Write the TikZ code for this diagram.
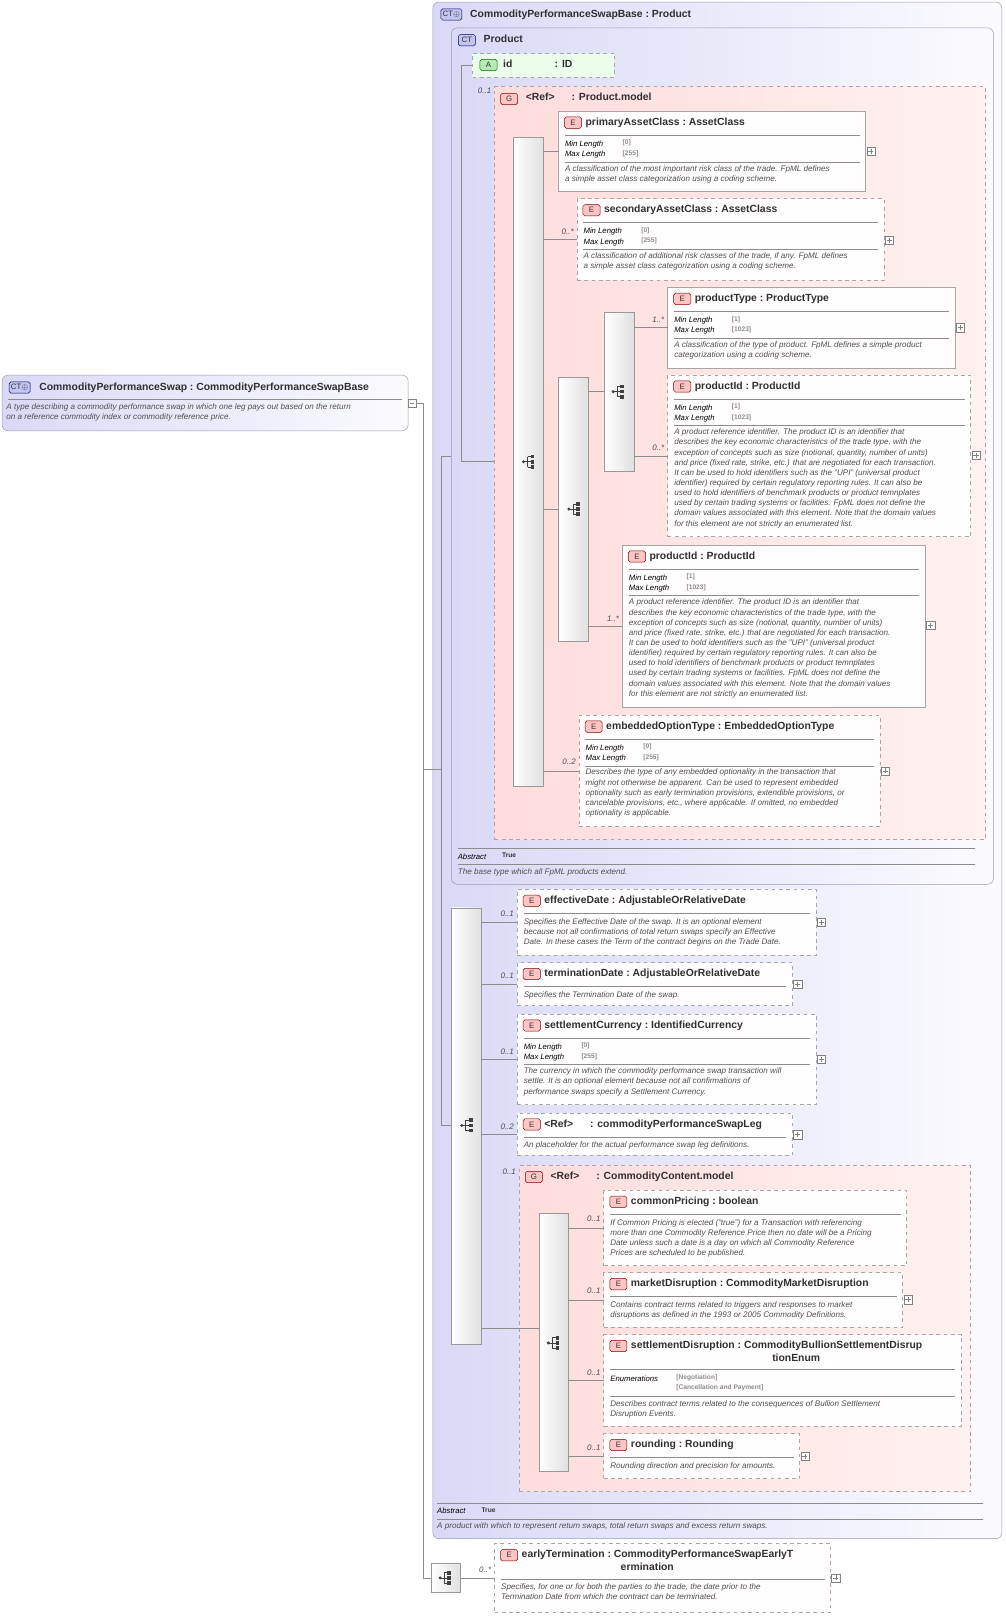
\documentclass[tikz,border=0pt]{standalone}
\usepackage{fontspec}
\setmainfont{Liberation Sans}
\usetikzlibrary{shapes}

\definecolor{ctline}{HTML}{9A9AB8}
\definecolor{ctfill}{HTML}{D9D9F7}
\definecolor{grpline}{HTML}{B8A0A0}
\definecolor{grpfill}{HTML}{FFDCDC}
\definecolor{ebadge}{HTML}{FFC4C4}
\definecolor{ctbadge}{HTML}{C4C4F0}
\definecolor{abadge}{HTML}{B4ECB4}
\definecolor{txt}{HTML}{303030}
\definecolor{dtxt}{HTML}{505050}

\newcommand\bx[6]{\node[#6, anchor=north west, minimum width={(#4-#2)*0.03cm}, minimum height={(#5-#3)*0.03cm}] (#1) at (#2,#3) {};}
\newcommand\elem[7]{%
  \bx{#1}{#2}{#3}{#4}{#5}{#6}
  \node[badge, fill=ebadge, draw=red!50!black] at (#2+14,#3+11) {E};
  \node[ttl] at (#2+26,#3+6) {#7};}
\newcommand\sepl[3]{\draw[sepline] (#1,#3) -- (#2,#3);}
\newcommand\props[5]{%
  \node[prp] at (#1+6,#2+32) {Min Length}; \node[val] at (#1+62,#2+31) {[#4]};
  \node[prp] at (#1+6,#2+42) {Max Length}; \node[val] at (#1+62,#2+41) {[#5]};
  \sepl{#1+6}{#3-6}{#2+49}}
\newcommand\dsc[3]{\node[dsc] at (#1+6,#2) {#3};}
\newcommand\plusbox[2]{\draw[gray, fill=white] (#1-4,#2-4) rectangle (#1+4,#2+4);
  \draw[gray] (#1-2.5,#2) -- (#1+2.5,#2) (#1,#2-2.5) -- (#1,#2+2.5);}
\newcommand\seqicon[2]{%
  \fill[black!75] (#1-5,#2) circle (1.6);
  \draw[black!75, line width=0.6pt] (#1-5,#2) -- (#1-1,#2) (#1-1,#2-5) -- (#1-1,#2+5)
    (#1-1,#2-5) -- (#1+2,#2-5) (#1-1,#2) -- (#1+2,#2) (#1-1,#2+5) -- (#1+2,#2+5);
  \foreach \dy in {-5,0,5} \fill[black!75] (#1+2,#2+\dy-1.8) rectangle (#1+5.6,#2+\dy+1.8);}

\tikzset{
  ctbox/.style={draw=ctline, rounded corners=5pt, left color=ctfill, right color=white!90!ctfill, inner sep=0, outer sep=0},
  grpbox/.style={draw=grpline, dashed, line width=0.8pt, left color=grpfill, right color=grpfill!40, inner sep=0, outer sep=0},
  ebox/.style={draw=black!35, line width=0.6pt, fill=white!93!grpfill, inner sep=0, outer sep=0},
  eopt/.style={ebox, dashed, line width=0.8pt},
  seqbar/.style={draw=black!40, left color=white, right color=black!12, inner sep=0, outer sep=0},
  badge/.style={rounded corners=1.5pt, font=\fontsize{6.5}{7}\selectfont, text=black!80, inner sep=1.5pt, minimum width=0.5cm, minimum height=0.33cm},
  ttl/.style={anchor=north west, align=left, font=\fontsize{8.6}{10.5}\selectfont\bfseries, text=txt, inner sep=0},
  prp/.style={anchor=west, font=\fontsize{6.4}{7}\selectfont\itshape, text=black, inner sep=0},
  val/.style={anchor=west, font=\fontsize{5.5}{6}\selectfont\bfseries, text=black!45, inner sep=0},
  dsc/.style={anchor=north west, align=left, font=\fontsize{6.7}{8.4}\selectfont\itshape, text=dtxt, inner sep=0},
  mult/.style={anchor=south east, font=\fontsize{6.6}{7}\selectfont\itshape, text=black!70, inner sep=1pt},
  conn/.style={draw=black!45, line width=0.5pt},
  sepline/.style={draw=black!45, line width=0.4pt},
}

\begin{document}
\begin{tikzpicture}[x=0.03cm, y=-0.03cm]
\useasboundingbox (0,0) rectangle (976,1568);

% outer complex type
\bx{base}{420}{2}{972}{1493}{ctbox}
\node[badge, fill=ctbadge, draw=blue!40!black] at (438,14) {CT$\oplus$};
\node[ttl] at (456,9) {CommodityPerformanceSwapBase\ :\ Product};
\bx{prod}{438}{27}{964}{858}{ctbox}
\node[badge, fill=ctbadge, draw=blue!40!black] at (453,39) {CT};
\node[ttl] at (469,34) {Product};

% root type
\bx{root}{2}{364}{396}{418}{ctbox}
\node[badge, fill=ctbadge, draw=blue!40!black] at (19,376) {CT$\oplus$};
\node[ttl] at (38,371) {CommodityPerformanceSwap\ :\ CommodityPerformanceSwapBase};
\sepl{8}{390}{387}
\dsc{0}{391}{A type describing a commodity performance swap in which one leg pays out based on the return\\on a reference commodity index or commodity reference price.}
\draw[gray, fill=white] (396,387) rectangle (404,395); \draw[gray] (398,391) -- (402,391);

% connectors of the root
\coordinate (r1) at (404,391);
\coordinate (r2) at (411,391);
\coordinate (r3) at (411,1531);
\coordinate (r4) at (411,746);
\coordinate (b1) at (428,746);
\coordinate (b2) at (428,443);
\coordinate (b3) at (428,1092);
\coordinate (p1) at (448,63);
\coordinate (p2) at (448,448);
\draw[conn] (r1) -- (r2) -- (r3) -- (418,1531);
\draw[conn] (r4) -- (b1);
\draw[conn] (b2) -- (b3);
\draw[conn] (b2) -- (438,443);
\draw[conn] (b3) -- (438,1092);
\draw[conn] (p1) -- (p2) -- (498,448);
\draw[conn] (p1) -- (458,63);

% attribute id
\node[draw=black!35, dashed, fill=green!8, chamfered rectangle, chamfered rectangle corners=north west, chamfered rectangle xsep=3pt, anchor=north west, minimum width={138*0.03cm}, minimum height={23*0.03cm}, inner sep=0, outer sep=0] (attr) at (458,52) {};
\node[badge, fill=abadge, draw=green!40!black] at (474,63) {A};
\node[ttl] at (488,58) {id};
\node[ttl] at (538,58) {: ID};

% group Product.model
\bx{grp}{480}{84}{956}{815}{grpbox}
\node[mult] at (478,92) {0..1};
\node[badge, fill=ebadge, draw=red!50!black] at (494,96) {G};
\node[ttl] at (510,90) {<Ref>\hspace{14pt}: Product.model};

\bx{seqA}{498}{133}{527}{763}{seqbar}
\seqicon{513}{448}
\bx{chc}{542}{366}{571}{622}{seqbar}
\seqicon{557}{494}
\bx{seqB}{586}{303}{615}{457}{seqbar}
\seqicon{600}{380}

\elem{pac}{542}{108}{840}{186}{ebox}{primaryAssetClass\ :\ AssetClass}
\sepl{548}{834}{131}
\props{542}{108}{840}{0}{255}
\dsc{542}{160}{A classification of the most important risk class of the trade. FpML defines\\a simple asset class categorization using a coding scheme.}
\plusbox{845}{147}

\elem{sac}{560}{193}{858}{272}{eopt}{secondaryAssetClass\ :\ AssetClass}
\sepl{566}{852}{216}
\props{560}{193}{858}{0}{255}
\dsc{560}{245}{A classification of additional risk classes of the trade, if any. FpML defines\\a simple asset class categorization using a coding scheme.}
\plusbox{863}{233}

\elem{ptype}{648}{279}{927}{357}{ebox}{productType\ :\ ProductType}
\sepl{654}{921}{302}
\props{648}{279}{927}{1}{1023}
\dsc{648}{331}{A classification of the type of product. FpML defines a simple product\\categorization using a coding scheme.}
\plusbox{932}{318}

\elem{pidA}{648}{364}{942}{521}{eopt}{productId\ :\ ProductId}
\sepl{654}{936}{387}
\props{648}{364}{942}{1}{1023}
\dsc{648}{416}{A product reference identifier. The product ID is an identifier that\\describes the key economic characteristics of the trade type, with the\\exception of concepts such as size (notional, quantity, number of units)\\and price (fixed rate, strike, etc.) that are negotiated for each transaction.\\It can be used to hold identifiers such as the "UPI" (universal product\\identifier) required by certain regulatory reporting rules. It can also be\\used to hold identifiers of benchmark products or product temnplates\\used by certain trading systems or facilities. FpML does not define the\\domain values associated with this element. Note that the domain values\\for this element are not strictly an enumerated list.}
\plusbox{947}{442}

\elem{pidB}{604}{529}{898}{686}{ebox}{productId\ :\ ProductId}
\sepl{610}{892}{552}
\props{604}{529}{898}{1}{1023}
\dsc{604}{581}{A product reference identifier. The product ID is an identifier that\\describes the key economic characteristics of the trade type, with the\\exception of concepts such as size (notional, quantity, number of units)\\and price (fixed rate, strike, etc.) that are negotiated for each transaction.\\It can be used to hold identifiers such as the "UPI" (universal product\\identifier) required by certain regulatory reporting rules. It can also be\\used to hold identifiers of benchmark products or product temnplates\\used by certain trading systems or facilities. FpML does not define the\\domain values associated with this element. Note that the domain values\\for this element are not strictly an enumerated list.}
\plusbox{903}{607}

\elem{eot}{562}{694}{854}{802}{eopt}{embeddedOptionType\ :\ EmbeddedOptionType}
\sepl{568}{848}{717}
\props{562}{694}{854}{0}{255}
\dsc{562}{746}{Describes the type of any embedded optionality in the transaction that\\might not otherwise be apparent. Can be used to represent embedded\\optionality such as early termination provisions, extendible provisions, or\\cancelable provisions, etc., where applicable. If omitted, no embedded\\optionality is applicable.}
\plusbox{859}{748}

\draw[conn] (seqA.east |- pac.west) -- (pac.west);
\draw[conn] (seqA.east |- sac.west) -- (sac.west);
\draw[conn] (seqA.east |- chc.west) -- (chc.west);
\draw[conn] (seqA.east |- eot.west) -- (eot.west);
\draw[conn] (chc.east |- seqB.west) -- (seqB.west);
\draw[conn] (chc.east |- pidB.west) -- (pidB.west);
\draw[conn] (seqB.east |- ptype.west) -- (ptype.west);
\draw[conn] (seqB.east |- pidA.west) -- (pidA.west);
\node[mult] at (558,229) {0..*};
\node[mult] at (646,314) {1..*};
\node[mult] at (646,439) {0..*};
\node[mult] at (602,604) {1..*};
\node[mult] at (560,743) {0..2};

\sepl{444}{946}{823}
\node[prp] at (444,831) {Abstract};
\node[val, text=black!80] at (487,830) {True};
\sepl{444}{946}{839}
\dsc{438}{843}{The base type which all FpML products extend.}

% sequence of the base type
\bx{seqC}{438}{881}{467}{1304}{seqbar}
\seqicon{453}{1092}

\elem{eff}{502}{863}{792}{927}{eopt}{effectiveDate\ :\ AdjustableOrRelativeDate}
\sepl{508}{786}{886}
\dsc{502}{891}{Specifies the Eeffective Date of the swap. It is an optional element\\because not all confirmations of total return swaps specify an Effective\\Date. In these cases the Term of the contract begins on the Trade Date.}
\plusbox{797}{895}

\elem{term}{502}{934}{769}{976}{eopt}{terminationDate\ :\ AdjustableOrRelativeDate}
\sepl{508}{763}{957}
\dsc{502}{962}{Specifies the Termination Date of the swap.}
\plusbox{774}{955}

\elem{scur}{502}{984}{792}{1072}{eopt}{settlementCurrency\ :\ IdentifiedCurrency}
\sepl{508}{786}{1007}
\props{502}{984}{792}{0}{255}
\dsc{502}{1036}{The currency in which the commodity performance swap transaction will\\settle. It is an optional element because not all confirmations of\\performance swaps specify a Settlement Currency.}
\plusbox{797}{1028}

\elem{leg}{502}{1080}{769}{1121}{eopt}{<Ref>\hspace{14pt}: commodityPerformanceSwapLeg}
\sepl{508}{763}{1103}
\dsc{502}{1107}{An placeholder for the actual performance swap leg definitions.}
\plusbox{774}{1101}

\bx{cgrp}{504}{1131}{942}{1447}{grpbox}
\node[badge, fill=ebadge, draw=red!50!black] at (518,1142) {G};
\node[ttl] at (534,1137) {<Ref>\hspace{14pt}: CommodityContent.model};
\bx{seqD}{523}{1177}{551}{1428}{seqbar}
\seqicon{537}{1303}

\elem{cpr}{586}{1155}{880}{1228}{eopt}{commonPricing\ :\ boolean}
\sepl{592}{874}{1178}
\dsc{586}{1183}{If Common Pricing is elected ("true") for a Transaction with referencing\\more than one Commodity Reference Price then no date will be a Pricing\\Date unless such a date is a day on which all Commodity Reference\\Prices are scheduled to be published.}

\elem{mdis}{586}{1235}{876}{1288}{eopt}{marketDisruption\ :\ CommodityMarketDisruption}
\sepl{592}{870}{1258}
\dsc{586}{1263}{Contains contract terms related to triggers and responses to market\\disruptions as defined in the 1993 or 2005 Commodity Definitions.}
\plusbox{881}{1261}

\elem{sdis}{586}{1295}{933}{1384}{eopt}{settlementDisruption\ :\ CommodityBullionSettlementDisrup\\\hspace*{117pt}tionEnum}
\sepl{592}{927}{1329}
\node[prp] at (592,1338) {Enumerations};
\node[val] at (656,1337) {[Negotiation]};
\node[val] at (656,1347) {[Cancellation and Payment]};
\sepl{592}{927}{1355}
\dsc{586}{1359}{Describes contract terms related to the consequences of Bullion Settlement\\Disruption Events.}

\elem{rnd}{586}{1391}{776}{1435}{eopt}{rounding\ :\ Rounding}
\sepl{592}{770}{1414}
\dsc{586}{1419}{Rounding direction and precision for amounts.}
\plusbox{781}{1413}

\draw[conn] (seqC.east |- eff.west) -- (eff.west);
\draw[conn] (seqC.east |- term.west) -- (term.west);
\draw[conn] (seqC.east |- scur.west) -- (scur.west);
\draw[conn] (seqC.east |- leg.west) -- (leg.west);
\draw[conn] (seqC.east |- 0,1289) -- (seqD.west |- 0,1289);
\draw[conn] (seqD.east |- cpr.west) -- (cpr.west);
\draw[conn] (seqD.east |- mdis.west) -- (mdis.west);
\draw[conn] (seqD.east |- sdis.west) -- (sdis.west);
\draw[conn] (seqD.east |- rnd.west) -- (rnd.west);
\node[mult] at (500,891) {0..1};
\node[mult] at (500,951) {0..1};
\node[mult] at (500,1025) {0..1};
\node[mult] at (500,1097) {0..2};
\node[mult] at (502,1141) {0..1};
\node[mult] at (584,1187) {0..1};
\node[mult] at (584,1257) {0..1};
\node[mult] at (584,1336) {0..1};
\node[mult] at (584,1409) {0..1};

\sepl{424}{954}{1459}
\node[prp] at (424,1466) {Abstract};
\node[val, text=black!80] at (467,1465) {True};
\sepl{424}{954}{1474}
\dsc{418}{1477}{A product with which to represent return swaps, total return swaps and excess return swaps.}

% early termination
\bx{seqE}{418}{1517}{447}{1545}{seqbar}
\seqicon{432}{1531}
\elem{early}{480}{1498}{806}{1565}{eopt}{earlyTermination\ :\ CommodityPerformanceSwapEarlyT\\\hspace*{82pt}ermination}
\sepl{486}{800}{1532}
\dsc{480}{1536}{Specifies, for one or for both the parties to the trade, the date prior to the\\Termination Date from which the contract can be terminated.}
\plusbox{811}{1531}
\draw[conn] (seqE.east) -- (early.west |- seqE.east);
\node[mult] at (478,1527) {0..*};
\end{tikzpicture}
\end{document}
